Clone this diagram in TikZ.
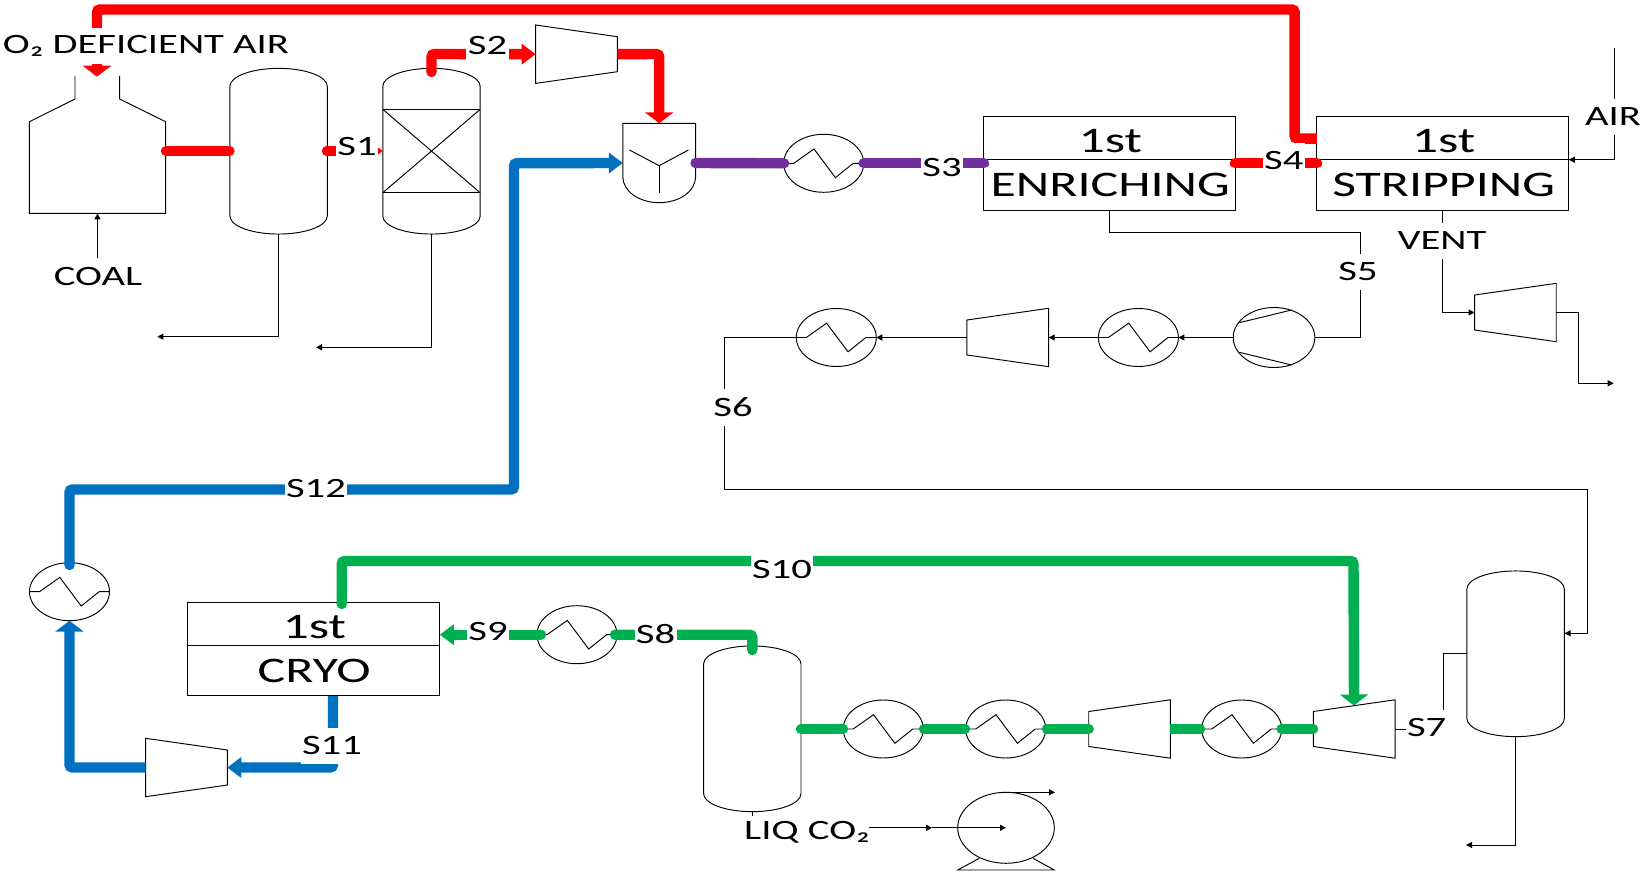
\documentclass[tikz,border=0pt]{standalone}
\usepackage{fontspec}
\setmainfont{Carlito}
\usetikzlibrary{arrows.meta,calc,shapes.geometric}
\definecolor{rd}{HTML}{FF0000}
\definecolor{bl}{HTML}{0070C0}
\definecolor{gr}{HTML}{00B050}
\definecolor{pu}{HTML}{7030A0}
\tikzset{
  eq/.style={draw=black,line width=0.95pt,line join=miter},
  box0/.style={inner sep=0pt,outer sep=0pt,rectangle},
  hxnode/.style={eq,ellipse,fill=white,inner sep=0pt,outer sep=0pt,minimum width=80pt,minimum height=58pt},
  pipe/.style={draw=black,line width=0.95pt},
  thinarrow/.style={pipe,-{Triangle[length=6pt,width=6pt]}},
  fat/.style={line width=10.4pt,rounded corners=3pt,line cap=round},
  fatb/.style={line width=10.4pt,rounded corners=3pt,line cap=butt},
  head/.style={-{Triangle[length=11pt,width=28pt]}},
  headw/.style={-{Triangle[length=14pt,width=20pt]}},
  lab/.style={fill=white,inner xsep=1pt,inner ysep=0pt,minimum height=36pt,xscale=1.45,font=\fontsize{28}{30}\selectfont},
  txt/.style={inner sep=0pt,xscale=1.44,font=\fontsize{36}{40}\selectfont},
}
\newcommand{\vesselpath}[1]{%
  \draw[eq,fill=white] ($(#1.north west)+(0,18)$) arc[start angle=180,end angle=0,x radius=48.7pt,y radius=18pt]
    -- ($(#1.south east)+(0,-18)$) arc[start angle=360,end angle=180,x radius=48.7pt,y radius=18pt] -- cycle;}
\newcommand{\vessel}[3]{\node[box0,minimum width=97.4pt,minimum height=165.7pt] (#1) at (#2,#3) {};\vesselpath{#1}}
\newcommand{\hx}[3]{\node[hxnode] (#1) at (#2,#3) {};
  \draw[eq] (#1.west) -- ++(10,0) -- ++(20.3,-14.3) -- ++(21.4,28.6) -- ++(17.9,-14.3) -- (#1.east);}
\newcommand{\compL}[3]{\node[box0,minimum width=81.7pt,minimum height=58.4pt] (#1) at (#2,#3) {};
  \draw[eq,fill=white] (#1.north west) -- ($(#1.north east)+(0,11.7)$) -- ($(#1.south east)+(0,-11.7)$) -- (#1.south west) -- cycle;}
\newcommand{\compR}[3]{\node[box0,minimum width=81.7pt,minimum height=58.4pt] (#1) at (#2,#3) {};
  \draw[eq,fill=white] (#1.north east) -- ($(#1.north west)+(0,11.7)$) -- ($(#1.south west)+(0,-11.7)$) -- (#1.south east) -- cycle;}
\newcommand{\tbox}[5]{\node[eq,fill=white,box0,minimum width=252pt,minimum height=93.3pt] (#1) at (#2,#3) {};
  \draw[eq] ($(#1.north west)+(0,43)$) -- ($(#1.north east)+(0,43)$);
  \node[txt] (#1a) at ($(#1.north)+(#5,24)$) {1st};
  \node[txt] (#1b) at ($(#1.north)+(#5,68.5)$) {#4};}
\begin{document}
\begin{tikzpicture}[x=1pt,y=-1pt]
\fill[white] (0,0) rectangle (1642,877);
\useasboundingbox (0,0) rectangle (1642,877);

% ---------- gasifier
\node[box0,minimum width=136.1pt,minimum height=137.3pt] (g) at (97.5,144.7) {};
\draw[eq] (75,76) -- (75,99) -- (g.west |- 0,121.7) -- (g.south west) -- (g.south east) -- (g.east |- 0,121.7) -- (119.6,99) -- (119.6,76);

% ---------- vessels
\vessel{v1}{278.6}{151.2}
\vessel{r1}{431.5}{151.2}
\draw[eq] ($(r1.north west)+(0,41)$) -- ($(r1.north east)+(0,41)$);
\draw[eq] ($(r1.south west)+(0,-41.3)$) -- ($(r1.south east)+(0,-41.3)$);
\draw[eq] ($(r1.north west)+(0,41)$) -- ($(r1.south east)+(0,-41.3)$);
\draw[eq] ($(r1.north east)+(0,41)$) -- ($(r1.south west)+(0,-41.3)$);
\vessel{v3}{752.3}{728.8}
\vessel{v4}{1515.6}{653.8}

% ---------- mixer
\node[box0,minimum width=72.7pt,minimum height=79.4pt] (m) at (659.2,163) {};
\draw[eq] (m.north west) -- (m.north east) -- ($(m.east)+(0,14)$) arc[start angle=360,end angle=180,x radius=36.35pt,y radius=25.7pt] -- (m.north west) -- cycle;
\coordinate (mc) at ($(m.center)+(0,2.7)$);
\draw[eq] (mc) -- (629.5,150);
\draw[eq] (mc) -- (688.4,150);
\draw[eq] (mc) -- (659.2,192.7);

% ---------- compressors
\compL{c1}{576.5}{54.2}
\compL{c2}{186.5}{767.5}
\compR{c3}{1007.8}{337.5}
\compR{c4}{1129.6}{729}
\compR{c5}{1354.2}{729}
\compR{c6}{1515.4}{312.5}

% ---------- turbine-like circle with blades
\node[eq,ellipse,inner sep=0pt,outer sep=0pt,minimum width=81.6pt,minimum height=60pt] (t1) at (1274,337.5) {};
\draw[eq] (1239.3,322.7) -- (1291.6,310);
\draw[eq] (1239.3,352.3) -- (1291.6,365);

% ---------- exchangers
\hx{h1}{823.7}{163.3}
\hx{h2}{1138.4}{337.5}
\hx{h3}{836.3}{337.5}
\hx{h4}{69.5}{591.7}
\hx{h5}{577}{634.7}
\hx{h6}{883.2}{729}
\hx{h7}{1005.7}{729}
\hx{h8}{1241.7}{729}

% ---------- pump
\node[eq,ellipse,inner sep=0pt,outer sep=0pt,minimum width=96.6pt,minimum height=71pt] (p) at (1006,827.8) {};
\draw[eq] (979.3,858.3) -- (957.7,870) -- (1054.3,870) -- (1033,858.3);

% ---------- boxes
\tbox{b1}{1109.2}{163.4}{ENRICHING}{1}
\tbox{b2}{1442.6}{163.4}{STRIPPING}{1}
\tbox{b3}{313.2}{649.2}{CRYO}{1}

% ---------- port coordinates
\coordinate (gin) at (97.5,258);
\coordinate (gtop) at (97,76.7);
\coordinate (gout) at (166,151);
\coordinate (v1in) at (229.5,151);
\coordinate (v1out) at (327,151);
\coordinate (r1in) at (382.8,151);
\coordinate (r1top) at (431.5,72);
\coordinate (b2top) at (1316.8,138.7);
\coordinate (b2l) at (1317,163.3);
\coordinate (b1r) at (1235,163.3);
\coordinate (b1l) at (984,163.3);
\coordinate (v3top) at (752.3,650);
\coordinate (b3top) at (341.8,604);
\coordinate (b3bot) at (333,696);
\coordinate (b3r) at (439.8,634.7);
\coordinate (c5top) at (1354,705.5);
\coordinate (v3r) at (801,729);
\coordinate (v4in) at (1564.6,633.3);
\coordinate (v4l) at (1467,653.7);
\coordinate (airstart) at (1614.7,48.3);
\coordinate (airin) at (1568.8,159.7);

% ---------- thin lines
\draw[thinarrow] (gin) -- (g.south);
\draw[thinarrow] (v1.south) |- (157.4,336.7);
\draw[thinarrow] (r1.south) |- (316,347.3);
\draw[pipe] (b1.south) -- (1109.2,232.7) -- (1360,232.7) -- (1360,337.5) -- (t1.east);
\draw[thinarrow] (t1.west) -- (h2.east);
\draw[thinarrow] (h2.west) -- (c3.east);
\draw[thinarrow] (c3.west) -- (h3.east);
\draw[thinarrow] (h3.west) -- (724,337.5) -- (724,489.7) -- (1587,489.7) -- (1587,633.3) -- (v4in);
\draw[thinarrow] (b2.south) -- (1442.6,312.5) -- (c6.west);
\draw[thinarrow] (c6.east) -- (1578.7,312.5) -- (1578.7,383.3) -- (1613.7,383.3);
\draw[thinarrow] (airstart) |- (airin);
\draw[thinarrow] (v4.south) |- (1466,845);
\draw[pipe] (c5.east) -- (1443.5,729) -- (1443.5,653.7) -- (v4l);
\draw[pipe] (v3.south) -- ++(0,4);
\coordinate (liqout) at (869,827.8);
\coordinate (pmid) at (932,827.8);
\draw[thinarrow] (liqout) -- (pmid);
\draw[thinarrow] (pmid) -- (p.center);
\draw[thinarrow] (p.north) -- (1055,792.3);

% ---------- red streams
\draw[rd,fat] (gout) -- (v1in);
\draw[rd,fat,line cap=butt,head] (b2top) -- (1294.6,138.7) -- (1294.6,9.5) -- (97,9.5) -- (gtop);
\draw[rd,fatb,headw] (v1out) -- (r1in);
\fill[rd] (v1out) circle (5.2pt);
\draw[rd,fatb,headw] (r1top) -- (431.5,54) -- (c1.west);
\fill[rd] (r1top) circle (5.2pt);
\draw[rd,fatb,head] (c1.east) -- (659.2,54) -- (m.north);
\draw[rd,fat] (b1r) -- (b2l);

% ---------- purple
\draw[pu,fat] (m.east) -- (784,163.3);
\draw[pu,fat] (h1.east) -- (b1l);

% ---------- blue
\draw[bl,fatb,headw] (69.5,565) -- (69.5,489.5) -- (514,489.5) -- (514,163.2) -- (m.west);
\fill[bl] (69.5,565) circle (5.2pt);
\draw[bl,fatb,head] (c2.west) -- (69.5,767.5) -- (h4.south);
\draw[bl,fatb,headw] (b3bot) -- (333,767.5) -- (c2.east);

% ---------- green
\draw[gr,fatb,head] (b3top) -- (341.8,561) -- (1353.5,561) -- (c5top);
\fill[gr] (b3top) circle (5.2pt);
\draw[gr,fatb,headw] (541,634.7) -- (b3r);
\fill[gr] (541,634.7) circle (5.2pt);
\draw[gr,fat] (615,634.7) -- (752.3,634.7) -- (v3top);
\draw[gr,fat] (v3r) -- (843,729);
\draw[gr,fat] (924,729) -- (965,729);
\draw[gr,fat] (1047,729) -- (c4.west);
\draw[gr,fatb] (c4.east) -- (1200,729);
\fill[gr] (1200,729) circle (5.2pt);
\draw[gr,fat] (1281.5,729) -- (1313,729);

% ---------- labels
\node[lab] (lo2) at (146,46) {O₂ DEFICIENT AIR};
\node[lab,fill=none] (lcoal) at (98,277) {COAL};
\node[lab] (ls1) at (357,147) {S1};
\node[lab] (ls2) at (487.5,45.7) {S2};
\node[lab] (ls3) at (942,167.7) {S3};
\node[lab] (ls4) at (1283.8,161) {S4};
\node[lab] (ls5) at (1358,272) {S5};
\node[lab] (lvent) at (1442,240.7) {VENT};
\node[lab] (lair) at (1613,116.7) {AIR};
\node[lab] (ls6) at (733,407.5) {S6};
\node[lab] (ls7) at (1426.7,727.7) {S7};
\node[lab] (ls8) at (655.6,634) {S8};
\node[lab] (ls9) at (488,631.7) {S9};
\node[lab] (ls10) at (782,569.3) {S10};
\node[lab] (ls11) at (332,745.7) {S11};
\node[lab] (ls12) at (316,489) {S12};
\node[lab,fill=none] (lliq) at (807,832) {LIQ CO₂};
\end{tikzpicture}
\end{document}
